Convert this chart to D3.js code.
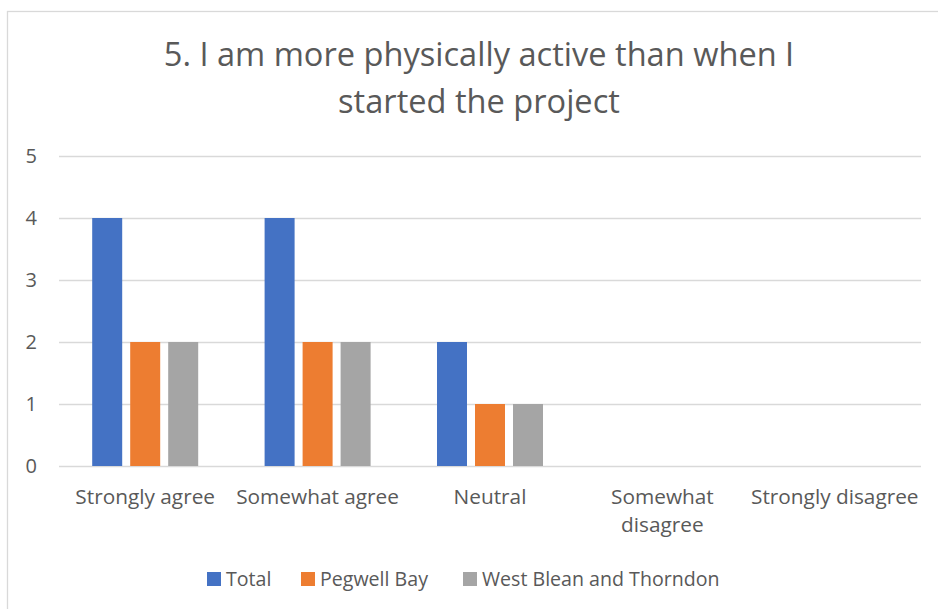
<html lang="en">
  <head>
    <meta charset="utf-8" />
    <title>5. I am more physically active</title>
    <script src="https://cdnjs.cloudflare.com/ajax/libs/d3/7.8.5/d3.min.js"></script>
    <style>
      body { margin: 0; background: #fff; }
      text { font-family: "Open Sans", Lato, sans-serif; fill: #595959; }
    </style>
  </head>
  <body>
    <script>
      /*************************** Data ***************************/

      var categories = [["Strongly agree"], ["Somewhat agree"], ["Neutral"], ["Somewhat", "disagree"], ["Strongly disagree"]];
      var series_names = ["Total", "Pegwell Bay", "West Blean and Thorndon"];
      var total = [4, 4, 2, 0, 0];
      var pegwell = [2, 2, 1, 0, 0];
      var west_blean = [2, 2, 1, 0, 0];
      var y_ticks = [0, 1, 2, 3, 4, 5];
      var title_lines = ["5. I am more physically active than when I", "started the project"];
      var colors = ["#4472c4", "#ed7d31", "#a5a5a5"];

      var series = [total, pegwell, west_blean];

      /*************************** Canvas ***************************/

      var W = 938, H = 609;
      var svg = d3.select("body").append("svg").attr("width", W).attr("height", H);

      // chart area border
      svg.append("rect")
        .attr("x", 7.5).attr("y", 11.5).attr("width", 950).attr("height", 640)
        .attr("fill", "none").attr("stroke", "#d9d9d9").attr("stroke-width", 1.3);

      var plot = { left: 59, right: 921, top: 156, bottom: 466 };

      var x0 = d3.scaleBand()
        .domain(d3.range(categories.length))
        .range([plot.left, plot.right]);

      var x1 = d3.scaleBand()
        .domain(d3.range(series.length))
        .range([0, 106])
        .paddingInner(8 / 38);

      var y = d3.scaleLinear().domain([0, 5]).range([plot.bottom, plot.top]);

      /*************************** Title ***************************/

      svg.append("g").selectAll("text").data(title_lines).enter().append("text")
        .attr("x", 479).attr("y", function (d, i) { return 66 + i * 47; })
        .attr("text-anchor", "middle")
        .style("font-size", "32.6px")
        .text(function (d) { return d; });

      /*************************** Grid & axis ***************************/

      svg.append("g").selectAll("line").data(y_ticks).enter().append("line")
        .attr("x1", plot.left).attr("x2", plot.right)
        .attr("y1", function (d) { return Math.round(y(d)) + 0.5; })
        .attr("y2", function (d) { return Math.round(y(d)) + 0.5; })
        .attr("stroke", "#d9d9d9").attr("stroke-width", 1.3);

      svg.append("g").selectAll("text").data(y_ticks).enter().append("text")
        .attr("x", 37).attr("y", function (d) { return y(d) + 7; })
        .attr("text-anchor", "end")
        .style("font-size", "20px")
        .text(function (d) { return d; });

      /*************************** Bars ***************************/

      var groups = svg.append("g").selectAll("g").data(categories).enter().append("g")
        .attr("transform", function (d, i) {
          return "translate(" + (x0(i) + x0.bandwidth() / 2 - 53) + ",0)";
        });

      groups.selectAll("rect")
        .data(function (d, i) { return series.map(function (s, j) { return { s: j, v: s[i] }; }); })
        .enter().append("rect")
        .attr("x", function (d) { return x1(d.s); })
        .attr("width", x1.bandwidth())
        .attr("y", function (d) { return y(d.v); })
        .attr("height", function (d) { return y(0) - y(d.v); })
        .attr("fill", function (d) { return colors[d.s]; });

      /*************************** Category labels ***************************/

      var cat_labels = svg.append("g").selectAll("text").data(categories).enter().append("text")
        .attr("x", function (d, i) { return x0(i) + x0.bandwidth() / 2; })
        .attr("y", 504)
        .attr("text-anchor", "middle")
        .style("font-size", "20.8px");

      cat_labels.selectAll("tspan").data(function (d) { return d; }).enter().append("tspan")
        .attr("x", function () { return d3.select(this.parentNode).attr("x"); })
        .attr("dy", function (d, i) { return i === 0 ? 0 : 28; })
        .text(function (d) { return d; });

      /*************************** Legend ***************************/

      var legend_x = [207, 301, 463];
      var legend = svg.append("g").selectAll("g").data(series_names).enter().append("g")
        .attr("transform", function (d, i) { return "translate(" + legend_x[i] + ",572)"; });

      legend.append("rect")
        .attr("width", 14).attr("height", 14)
        .attr("fill", function (d, i) { return colors[i]; });

      legend.append("text")
        .attr("x", 19).attr("y", 14)
        .style("font-size", "19.6px")
        .text(function (d) { return d; });
    </script>
  </body>
</html>
